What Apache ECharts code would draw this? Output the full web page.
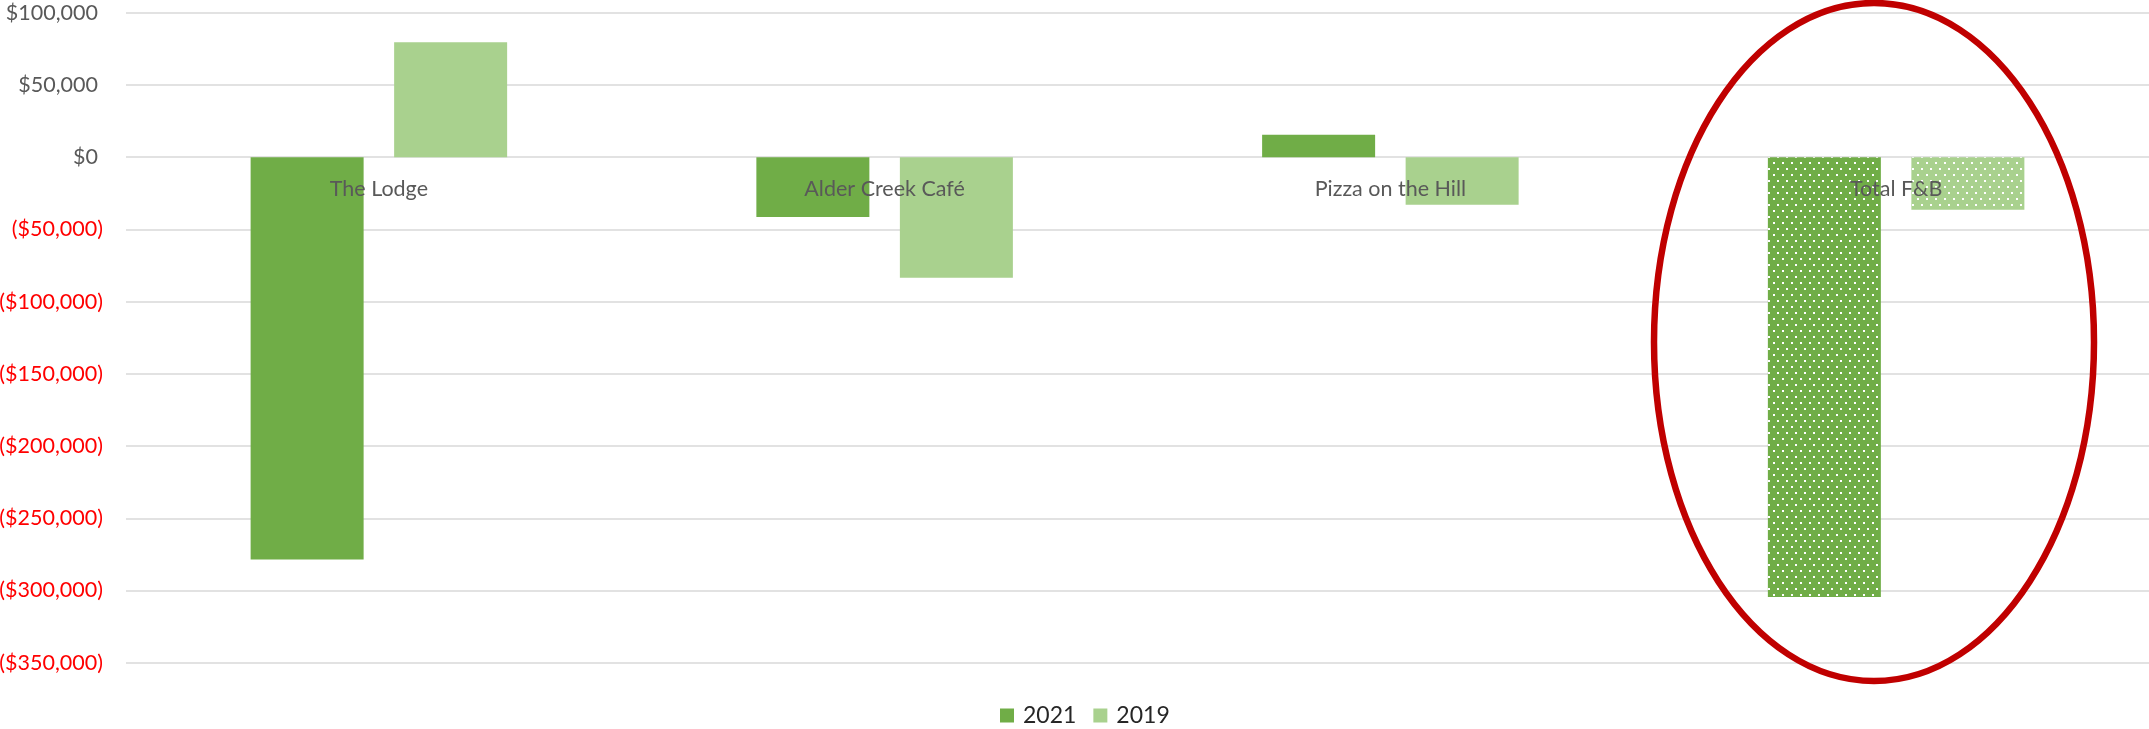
<!DOCTYPE html>
<html>
<head>
<meta charset="utf-8">
<title>F&amp;B variance by outlet</title>
<script src="https://cdn.jsdelivr.net/npm/echarts@6/dist/echarts.min.js"></script>
<style>
  html, body { margin: 0; padding: 0; background: #ffffff; }
  #chart { width: 2149px; height: 729px; }
</style>
</head>
<body>
<div id="chart"></div>
<script>
// Outlets shown along the horizontal axis
const categories = ['The Lodge', 'Alder Creek Café', 'Pizza on the Hill', 'Total F&B'];
// Variance per outlet, in dollars
const values2021 = [-278500, -41500, 15500, -304500];
const values2019 = [79500, -83500, -33000, -36500];
// Value axis range and step
const yMin = -350000;
const yMax = 100000;
const yStep = 50000;

const FONT = 'Lato, "Open Sans", "Noto Sans", sans-serif';
const COLOR_2021 = '#70AD47';
const COLOR_2019 = '#A9D18E';

const GRID_TOP = 12.7;
const GRID_BOTTOM = 66.3;
const CHART_H = 729;
const gridHeight = CHART_H - GRID_TOP - GRID_BOTTOM;
// Distance from the top of the plot down to the $0 line
const zeroOffset = (yMax - 0) / (yMax - yMin) * gridHeight;

// Dotted fill used on the total column
const dotDecal = {
  symbol: 'rect',
  symbolSize: 1,
  color: '#ffffff',
  dashArrayX: [[1.5, 6.5], [0, 4, 1.5, 2.5]],
  dashArrayY: [1.5, 3.8],
  rotation: 0
};

function toItems(values) {
  return values.map((v, i) => {
    if (i === categories.length - 1) {
      return { value: v, itemStyle: { decal: dotDecal } };
    }
    return v;
  });
}

function money(v) {
  const s = '$' + Math.abs(v).toLocaleString('en-US');
  return v < 0 ? '{neg|(' + s + ')}' : '{pos|' + s + '}';
}

const chart = echarts.init(document.getElementById('chart'), null, { renderer: 'canvas' });

chart.setOption({
  animation: false,
  backgroundColor: '#ffffff',
  textStyle: { fontFamily: FONT },
  grid: {
    left: 126,
    right: 0,
    top: GRID_TOP,
    bottom: GRID_BOTTOM,
    containLabel: false,
    outerBoundsMode: 'none'
  },
  legend: {
    data: ['2021', '2019'],
    left: 1000,
    top: 704,
    padding: 0,
    icon: 'rect',
    itemWidth: 14,
    itemHeight: 14,
    itemGap: 17,
    textStyle: {
      fontFamily: FONT,
      fontSize: 23,
      color: '#262626',
      padding: [0, 0, 0, 4]
    }
  },
  xAxis: {
    type: 'category',
    data: categories,
    position: 'top',
    // Category names hang just under the $0 line, drawn over the columns
    offset: -zeroOffset,
    z: 10,
    axisLine: { show: false, onZero: false },
    axisTick: { show: false },
    splitLine: { show: false },
    axisLabel: {
      inside: true,
      interval: 0,
      margin: 21,
      fontFamily: FONT,
      fontSize: 21.5,
      color: '#595959'
    }
  },
  yAxis: {
    type: 'value',
    min: yMin,
    max: yMax,
    interval: yStep,
    axisLine: { show: false },
    axisTick: { show: false },
    splitLine: { lineStyle: { color: '#d9d9d9', width: 1.6 } },
    axisLabel: {
      margin: 23,
      fontFamily: FONT,
      fontSize: 21.5,
      formatter: money,
      rich: {
        pos: { color: '#595959', fontFamily: FONT, fontSize: 21.5, padding: [0, 5, 0, 0] },
        neg: { color: '#FF0000', fontFamily: FONT, fontSize: 21.5 }
      }
    }
  },
  series: [
    {
      name: '2021',
      type: 'bar',
      data: toItems(values2021),
      barWidth: 113,
      barGap: '27%',
      itemStyle: { color: COLOR_2021 }
    },
    {
      name: '2019',
      type: 'bar',
      data: toItems(values2019),
      barWidth: 113,
      barGap: '27%',
      itemStyle: { color: COLOR_2019 }
    }
  ],
  // Red ring drawn around the total column
  graphic: [
    {
      type: 'ellipse',
      z: 100,
      shape: { cx: 1874, cy: 342, rx: 220, ry: 339 },
      style: { fill: null, stroke: '#C00000', lineWidth: 6.5 }
    }
  ]
});
</script>
</body>
</html>
